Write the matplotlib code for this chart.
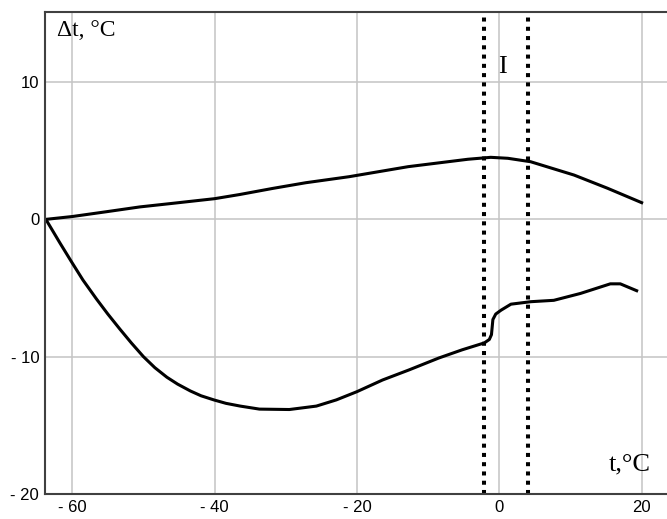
import matplotlib
matplotlib.use("Agg")
import matplotlib.pyplot as plt

# ---- data ----
upper_x = [-63.6, -60.0, -55.2, -50.5, -45.9, -40.0, -36.5, -31.8, -27.2, -21.1, -12.8, -4.4,
           -1.2, 1.2, 4.4, 10.5, 15.2, 20.0]
upper_y = [0.0, 0.2, 0.55, 0.9, 1.16, 1.5, 1.8, 2.25, 2.66, 3.1, 3.83, 4.37,
           4.51, 4.44, 4.19, 3.22, 2.26, 1.21]

lower_x = [-63.6, -61.7, -60.1, -58.5, -56.6, -55.0, -53.3, -51.7, -50.0, -48.4, -46.7, -45.2,
           -43.4, -41.9, -40.1, -38.4, -36.4, -33.7, -29.5, -25.7, -22.9, -20.0, -16.4, -12.7,
           -8.5, -5.2, -2.1, -1.4, -1.1, -0.9, -0.5, 0.24, 1.64, 4.44, 7.66, 11.4, 15.6, 17.0, 19.3]
lower_y = [-0.1, -1.75, -3.1, -4.42, -5.8, -6.9, -8.0, -9.0, -10.0, -10.8, -11.5, -12.0,
           -12.5, -12.85, -13.15, -13.4, -13.6, -13.82, -13.85, -13.6, -13.15, -12.55, -11.7, -10.97,
           -10.1, -9.5, -9.0, -8.75, -8.4, -7.3, -6.9, -6.62, -6.18, -6.0, -5.9, -5.4, -4.7, -4.7, -5.2]

vlines_x = [-2.1, 4.0]

xticks = [-60, -40, -20, 0, 20]
xtick_labels = ["- 60", "- 40", "- 20", "0", "20"]
yticks = [-20, -10, 0, 10]
ytick_labels = ["- 20", "- 10", "0", "10"]

region_label = "I"
y_label = "Δt, °C"
x_label = "t,°C"

# ---- figure ----
fig = plt.figure(figsize=(6.67, 5.19), dpi=100)
ax = fig.add_axes([44.7 / 667, 1 - 494 / 519, 1 - 44.7 / 667 + 0.01, (494 - 12) / 519])
ax.set_xlim(-63.87, 24.5)
ax.set_ylim(-20, 15.09)

ax.set_xticks(xticks)
ax.set_xticklabels(xtick_labels)
ax.set_yticks(yticks)
ax.set_yticklabels(ytick_labels)
ax.tick_params(length=0, pad=4, labelsize=12)
for lab in ax.get_xticklabels() + ax.get_yticklabels():
    lab.set_family(["Liberation Sans Narrow", "Liberation Sans"])

ax.grid(True, color="#c4c4c4", linewidth=1.1)
ax.set_axisbelow(True)
for side in ["left", "top", "bottom"]:
    ax.spines[side].set_color("#404040")
    ax.spines[side].set_linewidth(1.5)
ax.spines["right"].set_visible(False)

ax.plot(upper_x, upper_y, color="black", lw=2.2, solid_joinstyle="round")
ax.plot(lower_x, lower_y, color="black", lw=2.2, solid_joinstyle="round")

for vx in vlines_x:
    ax.axvline(vx, color="black", lw=2.9, linestyle=(0, (1, 1.3)), dash_capstyle="butt")

ax.text(0.5, 11.1, region_label, ha="center", va="center", fontsize=19, family="Liberation Serif")
ax.text(-62.1, 13.34, y_label, ha="left", va="baseline", fontsize=17, family="Liberation Serif")
ax.text(15.4, -18.25, x_label, ha="left", va="baseline", fontsize=19, family="Liberation Serif")

fig.savefig("out.png", dpi=100)
